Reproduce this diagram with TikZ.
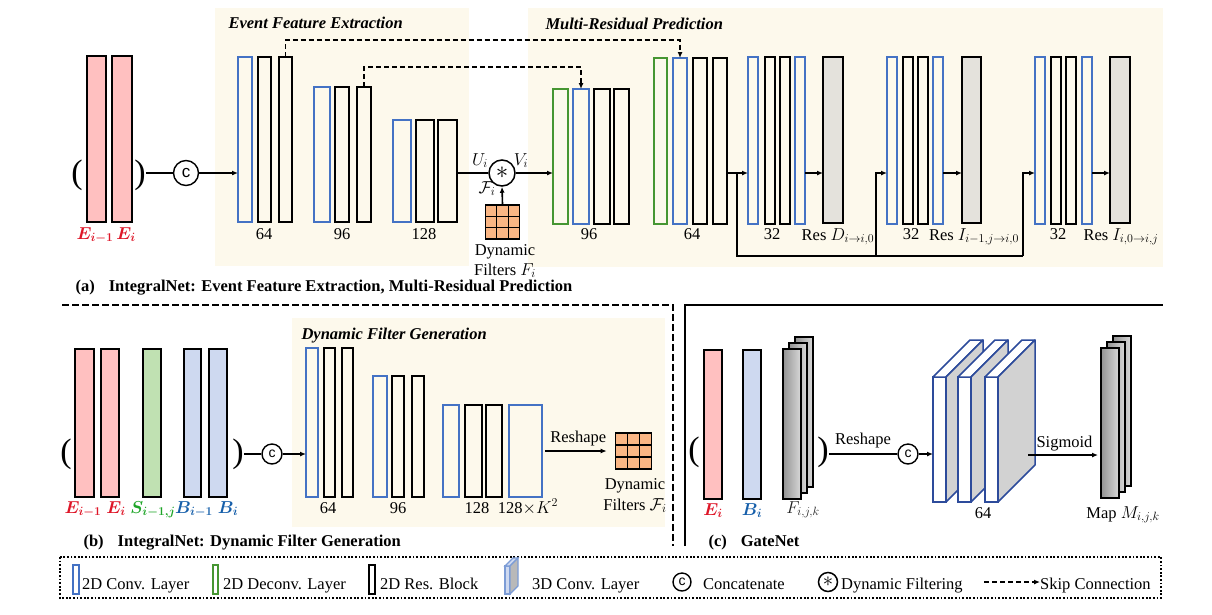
\documentclass[tikz,border=0pt]{standalone}
\usepackage{amsmath,amssymb}
\usepackage{bm}
\usepackage{fontspec}
\setmainfont{Liberation Serif}
\setsansfont{Liberation Sans}
\usetikzlibrary{arrows.meta,calc}

\definecolor{convblue}{RGB}{68,114,196}
\definecolor{deconvgreen}{RGB}{70,150,50}
\definecolor{pinkfill}{RGB}{255,192,192}
\definecolor{greenfill}{RGB}{192,225,178}
\definecolor{bluefill}{RGB}{206,217,240}
\definecolor{panelbg}{RGB}{253,249,236}
\definecolor{resgray}{RGB}{228,226,220}
\definecolor{filterorange}{RGB}{250,182,132}
\definecolor{lblred}{RGB}{222,22,40}
\definecolor{lblgreen}{RGB}{30,165,40}
\definecolor{lblblue}{RGB}{22,95,170}
\definecolor{cubeblue}{RGB}{45,75,155}
\definecolor{cubegray}{RGB}{210,210,210}

\tikzset{
  lyr/.style={rectangle, inner sep=0pt, outer sep=0pt, anchor=north west, line width=1.6pt},
  resout/.style={lyr, draw=black, fill=resgray},
  sheet/.style={lyr, draw=black, line width=1.5pt, minimum width=18, minimum height=150, left color=gray!85, right color=gray!30},
  cubefront/.style={lyr, draw=cubeblue, fill=white, line width=1.5pt},
  cubeline/.style={draw=cubeblue, line width=1.5pt, line join=round},
  cat/.style={circle, draw, line width=1.4pt, inner sep=0pt, minimum size=20, font=\sffamily\fontsize{14}{14}\selectfont},
  fdyn/.style={circle, draw, line width=1.5pt, inner sep=0pt, minimum size=26},
  fgrid/.style={rectangle, draw, line width=1.6pt, fill=filterorange, inner sep=0pt, minimum size=34,
    path picture={
      \foreach \t in {1,2} {
        \draw[line width=1.2pt] ($(path picture bounding box.north west)!\t/3!(path picture bounding box.north east)$) -- ($(path picture bounding box.south west)!\t/3!(path picture bounding box.south east)$);
        \draw[line width=1.2pt] ($(path picture bounding box.north west)!\t/3!(path picture bounding box.south west)$) -- ($(path picture bounding box.north east)!\t/3!(path picture bounding box.south east)$);
      }}},
  wire/.style={line width=1.6pt},
  conn/.style={wire, -{Latex[length=6pt,width=5pt]}},
  skipline/.style={conn, dash pattern=on 5pt off 3pt},
  paren/.style={font=\fontsize{34}{34}\selectfont, inner sep=0pt},
  ttl/.style={anchor=base west, font=\fontsize{16.5}{19}\selectfont\bfseries\itshape},
  capt/.style={anchor=base west, font=\fontsize{16.5}{19}\selectfont\bfseries},
  lbl/.style={anchor=base, inner sep=0pt},
}

\begin{document}
\begin{tikzpicture}[x=1pt, y=-1pt, font=\fontsize{16.5}{19}\selectfont]
\useasboundingbox (0,0) rectangle (1212,614);

\fill[panelbg] (215,8) rectangle (469,266);
\fill[panelbg] (528,8) rectangle (1163,267);
\fill[panelbg] (292,318) rectangle (665,527);

\node[ttl] (tefe) at (225,28) {Event Feature Extraction};
\node[ttl] (tmrp) at (542,29) {Multi-Residual Prediction};
\node[ttl] (tdfg) at (298,339) {Dynamic Filter Generation};

\coordinate (axisA) at (0,173);

% (a) IntegralNet
\node[lyr, draw=black, fill=pinkfill, minimum width=19, minimum height=166] (ina) at (87,56) {};
\node[lyr, draw=black, fill=pinkfill, minimum width=20, minimum height=166] (inb) at (112,56) {};
\node[paren] (pr1) at (77,175) {(};
\node[paren] (pr2) at (140,175) {)};
\node[cat, minimum size=25, font=\sffamily\fontsize{17}{17}\selectfont] (cat1) at (186,173) {c};

\foreach \n/\c/\x/\w in {a/convblue/238/14, b/black/258/13, c/black/279/13}
  \node[lyr, draw=\c, minimum width=\w, minimum height=165] (ea\n) at (\x,57) {};
\foreach \n/\c/\x/\w in {a/convblue/314/16, b/black/335/14, c/black/357/14}
  \node[lyr, draw=\c, minimum width=\w, minimum height=135] (eb\n) at (\x,87) {};
\foreach \n/\c/\x/\w in {a/convblue/393/18, b/black/416/18, c/black/438/19}
  \node[lyr, draw=\c, minimum width=\w, minimum height=102] (ec\n) at (\x,120) {};

\node[fdyn] (star) at (502,173) {\fontsize{26}{26}\selectfont$\ast$};
\node[fgrid] (fg1) at (502.5,222) {};

\foreach \n/\c/\x/\w in {a/deconvgreen/553/15, b/convblue/573/16, c/black/594/16, d/black/614/15}
  \node[lyr, draw=\c, minimum width=\w, minimum height=135] (da\n) at (\x,89) {};
\foreach \n/\c/\x/\w in {a/deconvgreen/654/13, b/convblue/673/14, c/black/693/14, d/black/713/14}
  \node[lyr, draw=\c, minimum width=\w, minimum height=166] (db\n) at (\x,58) {};

\foreach \n/\c/\x in {a/convblue/748, b/black/765, c/black/780, d/convblue/795}
  \node[lyr, draw=\c, minimum width=10, minimum height=167] (ra\n) at (\x,57) {};
\foreach \n/\c/\x in {a/convblue/887, b/black/903, c/black/918, d/convblue/933}
  \node[lyr, draw=\c, minimum width=10, minimum height=167] (rb\n) at (\x,57) {};
\foreach \n/\c/\x in {a/convblue/1035, b/black/1051, c/black/1066, d/convblue/1082}
  \node[lyr, draw=\c, minimum width=10, minimum height=167] (rc\n) at (\x,57) {};
\node[resout, minimum width=20, minimum height=166] (rao) at (823,57) {};
\node[resout, minimum width=19, minimum height=166] (rbo) at (962,57) {};
\node[resout, minimum width=20, minimum height=166] (rco) at (1110,57) {};

\draw[wire] (pr2.east |- axisA) -- (cat1);
\draw[conn] (cat1) -- (eaa.west |- axisA);
\draw[skipline] (eac.north) -- ++(0,-17) -| (dbb.north);
\draw[skipline] (ebc.north) -- ++(0,-20) -| (dab.north);
\draw[wire] (ecc.east |- axisA) -- (star);
\draw[conn] (fg1.north) -- (star.south);
\draw[conn] (star) -- (daa.west |- axisA);

\coordinate (br1) at (737,173);
\coordinate (bot1) at (737,256);
\coordinate (bot2) at (876,256);
\coordinate (bot3) at (1023,256);
\draw[wire] (dbd.east |- axisA) -- (br1);
\draw[conn] (br1) -- (raa.west |- axisA);
\draw[wire] (br1) -- (bot1) -- (bot3);
\draw[conn] (bot2) |- (rba.west |- axisA);
\draw[conn] (bot3) |- (rca.west |- axisA);
\foreach \from/\to in {rad/rao, rbd/rbo, rcd/rco}
  \draw[conn] (\from.east |- axisA) -- (\to.west |- axisA);

\node[lbl, text=lblred] (lei1) at (95,239) {$\bm{E_{i-1}}$};
\node[lbl, text=lblred] (lei2) at (126,239) {$\bm{E_{i}}$};
\node[lbl] (ui) at (480,165) {$U_i$};
\node[lbl] (vi) at (521,165) {$V_i$};
\node[lbl] (fi) at (487,193) {$\mathcal{F}_i$};
\node[lbl] (dfa1) at (505,255) {Dynamic};
\node[lbl] (dfa2) at (505,275) {Filters $F_i$};
\node[lbl] (l64a) at (264,239) {64};
\node[lbl] (l96a) at (342,239) {96};
\node[lbl] (l128a) at (424,239) {128};
\node[lbl] (l96b) at (589,239) {96};
\node[lbl] (l64b) at (692,239) {64};
\node[lbl] (l32a) at (772,239) {32};
\node[lbl] (lresa) at (838,240) {Res $D_{i\to i,0}$};
\node[lbl] (l32b) at (911,239) {32};
\node[lbl] (lresb) at (974,240) {Res $I_{i-1,j\to i,0}$};
\node[lbl] (l32c) at (1058,239) {32};
\node[lbl] (lresc) at (1121,240) {Res $I_{i,0\to i,j}$};

\node[capt] (capa) at (72,291) {(a)\hspace{14pt}IntegralNet: Event Feature Extraction, Multi-Residual Prediction};

% (b) dynamic filter generation
\draw[wire, dash pattern=on 7pt off 3pt] (62,305) -- (673,305) -- (673,546);

\node[paren] (pr3) at (66,454) {(};
\node[lyr, draw=black, fill=pinkfill, minimum width=19, minimum height=148] (inc) at (75,349) {};
\node[lyr, draw=black, fill=pinkfill, minimum width=18, minimum height=148] (ind) at (101,349) {};
\node[lyr, draw=black, fill=greenfill, minimum width=18, minimum height=148] (ine) at (143,349) {};
\node[lyr, draw=black, fill=bluefill, minimum width=17, minimum height=148] (inf) at (184,349) {};
\node[lyr, draw=black, fill=bluefill, minimum width=18, minimum height=148] (ing) at (209,349) {};
\node[paren] (pr4) at (238,454) {)};
\node[cat] (cat2) at (272,454) {c};

\foreach \n/\c/\x/\w in {a/convblue/306/12, b/black/324/11, c/black/342/11}
  \node[lyr, draw=\c, minimum width=\w, minimum height=149] (fa\n) at (\x,348) {};
\foreach \n/\c/\x/\w in {a/convblue/373/14, b/black/392/12, c/black/412/12}
  \node[lyr, draw=\c, minimum width=\w, minimum height=121] (fb\n) at (\x,376) {};
\foreach \n/\c/\x/\w in {a/convblue/443/16, b/black/465/17, c/black/486/16, d/convblue/509/33}
  \node[lyr, draw=\c, minimum width=\w, minimum height=92] (fc\n) at (\x,405) {};
\node[fgrid, minimum size=36] (fg2) at (633.5,451) {};

\draw[wire] (pr4.east |- cat2) -- (cat2);
\draw[conn] (cat2) -- (faa.west |- cat2);
\draw[conn, shorten <=3pt, shorten >=8pt] (fcd.east |- fg2) -- node[above=4pt, inner sep=0pt] (rsh1) {Reshape} (fg2.west);

\node[lbl, text=lblred] (lei3) at (83,513) {$\bm{E_{i-1}}$};
\node[lbl, text=lblred] (lei4) at (116,513) {$\bm{E_{i}}$};
\node[lbl, text=lblgreen] (lsi) at (153,513) {$\bm{S_{i-1,j}}$};
\node[lbl, text=lblblue] (lbi1) at (194,513) {$\bm{B_{i-1}}$};
\node[lbl, text=lblblue] (lbi2) at (228,513) {$\bm{B_{i}}$};
\node[lbl] (l64c) at (328,513) {64};
\node[lbl] (l96c) at (398,513) {96};
\node[lbl] (l128b) at (477,513) {128};
\node[lbl] (l128k) at (528,513) {128$\times K^2$};
\node[lbl] (dfb1) at (635,489) {Dynamic};
\node[lbl] (dfb2) at (635,510) {Filters $\mathcal{F}_i$};

\node[capt] (capb) at (80,546) {(b)\hspace{14pt}IntegralNet: Dynamic Filter Generation};

% (c) GateNet
\draw[wire] (685,546) -- (685,305) -- (1163,305);

\node[paren] (pr5) at (694,452) {(};
\node[lyr, draw=black, fill=pinkfill, minimum width=18, minimum height=149] (inh) at (704,350) {};
\node[lyr, draw=black, fill=bluefill, minimum width=18, minimum height=149] (ini) at (743,350) {};
\foreach \k/\d in {1/12, 2/6, 3/0}
  \node[sheet] (fs\k) at (783+\d,349-\d) {};
\node[paren] (pr6) at (823,452) {)};
\node[cat] (cat3) at (908,454) {c};

\foreach \n/\x in {1/933, 2/958, 3/985} {
  \node[cubefront, minimum width=13, minimum height=125] (g\n) at (\x,377) {};
  \draw[cubeline, fill=white] (g\n.north west) -- ++(37,-37) -- ++(13,0) -- (g\n.north east) -- cycle;
  \draw[cubeline, fill=cubegray] (g\n.north east) -- ++(37,-37) -- ++(0,125) -- (g\n.south east) -- cycle;
}
\foreach \k/\d in {1/12, 2/6, 3/0}
  \node[sheet] (ms\k) at (1101+\d,348-\d) {};

\coordinate (sg) at (1028,455);
\draw[wire] (pr6.east |- cat3) -- node[above=5pt, inner sep=0pt] (rsh2) {Reshape} (cat3);
\draw[conn] (cat3) -- (g1.west |- cat3);
\draw[conn, shorten >=3pt] (sg) -- node[above=3pt, inner sep=0pt] (sgm) {Sigmoid} (sg -| ms3.west);

\node[lbl, text=lblred] (lei5) at (713,515) {$\bm{E_{i}}$};
\node[lbl, text=lblblue] (lbi3) at (752,515) {$\bm{B_{i}}$};
\node[lbl, text=black!88] (lfijk) at (803,513) {$F_{i,j,k}$};
\node[lbl] (l64d) at (983,518) {64};
\node[lbl] (lmap) at (1123,518) {Map $M_{i,j,k}$};

\node[capt] (capc) at (705,546) {(c)\hspace{14pt}GateNet};

% legend
\draw[line width=1.8pt, dash pattern=on 1.8pt off 1.8pt] (60,557) rectangle (1161,598);
\node[lyr, draw=convblue, minimum width=6, minimum height=29] (lg1) at (73,565) {};
\node[anchor=base west, inner sep=0pt] (lt1) at (82,589) {2D Conv. Layer};
\node[lyr, draw=deconvgreen, minimum width=5, minimum height=29] (lg2) at (213,565) {};
\node[anchor=base west, inner sep=0pt] (lt2) at (223,589) {2D Deconv. Layer};
\node[lyr, draw=black, minimum width=6, minimum height=29] (lg3) at (369,565) {};
\node[anchor=base west, inner sep=0pt] (lt3) at (380,589) {2D Res. Block};
\node[lyr, draw=convblue!70, fill=bluefill, line width=1.2pt, minimum width=5, minimum height=28] (lg4) at (505,566) {};
\draw[draw=convblue!70, line width=1.2pt, fill=bluefill] (lg4.north west) -- ++(8,-8) -- ++(5,0) -- (lg4.north east) -- cycle;
\draw[draw=convblue!70, line width=1.2pt, fill=gray!55] (lg4.north east) -- ++(8,-8) -- ++(0,28) -- (lg4.south east) -- cycle;
\node[anchor=base west, inner sep=0pt] (lt4) at (532,589) {3D Conv. Layer};
\node[cat, minimum size=18] (lg5) at (682,582) {c};
\node[anchor=base west, inner sep=0pt] (lt5) at (703,589) {Concatenate};
\node[fdyn, minimum size=19] (lg6) at (828,582) {\fontsize{20}{20}\selectfont$\ast$};
\node[anchor=base west, inner sep=0pt] (lt6) at (841,589) {Dynamic Filtering};
\coordinate (lg7) at (984,582);
\node[anchor=base west, inner sep=0pt] (lt7) at (1040,589) {Skip Connection};
\draw[skipline] (lg7) -- (lg7 -| lt7.west);
\end{tikzpicture}
\end{document}
